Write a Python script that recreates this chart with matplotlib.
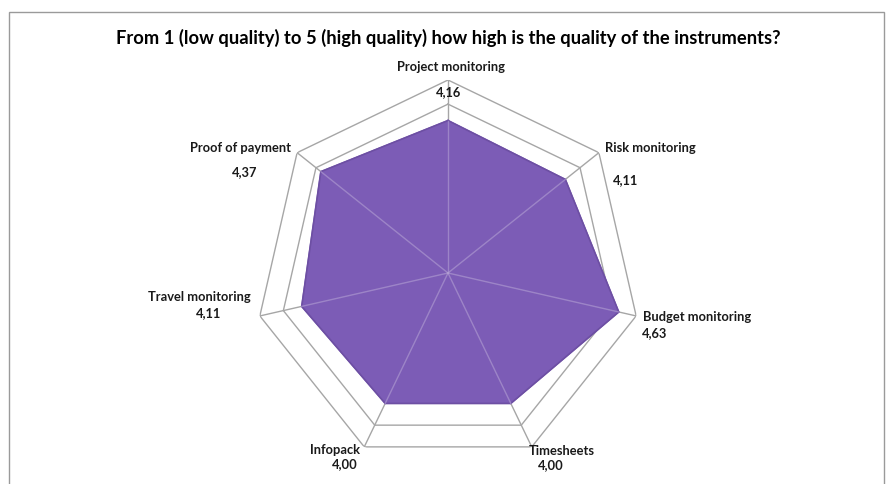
import numpy as np
import matplotlib
matplotlib.use("Agg")
import matplotlib.pyplot as plt
from matplotlib.patches import Rectangle

# data
categories = ["Project monitoring", "Risk monitoring", "Budget monitoring", "Timesheets",
              "Infopack", "Travel monitoring", "Proof of payment"]
scores = [4.16, 4.11, 4.63, 4.00, 4.00, 4.11, 4.37]
value_labels = ["4,16", "4,11", "4,63", "4,00", "4,00", "4,11", "4,37"]
rings = [4.5, 5.0]
title = "From 1 (low quality) to 5 (high quality) how high is the quality of the instruments?"

plt.rcParams['font.family'] = ['Lato', 'DejaVu Sans']

W, H = 886, 484
fig = plt.figure(figsize=(W / 100, H / 100), dpi=100)

# chart border (Excel style)
fig.patches.append(Rectangle((9 / W, -0.05), 875 / W, 1.05 - 12 / H, transform=fig.transFigure,
                             fill=False, edgecolor="#9a9a9a", lw=1))

ax = fig.add_axes([255 / W, 18 / H, 386 / W, 386 / H], projection="polar")
ax.set_theta_zero_location("N")
ax.set_theta_direction(-1)
ax.set_ylim(1, 5)
ax.grid(False)
ax.set_xticks([])
ax.set_yticks([])
ax.spines["polar"].set_visible(False)
ax.patch.set_alpha(0)

n = len(categories)
theta = np.arange(n) * 2 * np.pi / n
closed = np.append(theta, theta[0])

for r in rings:
    ax.plot(closed, [r] * (n + 1), color="#a6a6a6", lw=1, zorder=1)
for t in theta:
    ax.plot([t, t], [1, 5], color="#a6a6a6", lw=1, zorder=1)

vals = np.append(scores, scores[0])
ax.fill(closed, vals, color="#7c5cb6", zorder=2)
ax.plot(closed, vals, color="#6d4fa3", lw=1.2, zorder=3)
for t, s in zip(theta, scores):
    ax.plot([t, t], [1, s], color="#b3a0d3", lw=1, alpha=0.6, zorder=4)

# label placement relative to the outer vertex (pixels)
name_off = [(3, 13, "center"), (51, 5, "center"), (7, -1, "left"), (30, -4, "center"),
            (-29, -3, "center"), (-60, 19, "center"), (-57, 5, "center")]
val_off = [(1, -12, "center"), (27, -27, "center"), (6, -17, "left"), (19, -18, "center"),
           (-19, -17, "center"), (-51, 3, "center"), (-52, -19, "center")]

for i in range(n):
    dx, dy, ha = name_off[i]
    ax.annotate(categories[i], xy=(theta[i], 5), xytext=(dx, dy), textcoords="offset pixels",
                ha=ha, va="center", fontsize=9.3, fontweight="bold", color="#1a1a1a",
                annotation_clip=False, zorder=5)
    dx, dy, ha = val_off[i]
    ax.annotate(value_labels[i], xy=(theta[i], 5), xytext=(dx, dy), textcoords="offset pixels",
                ha=ha, va="center", fontsize=9.3, fontweight="bold", color="#1a1a1a",
                annotation_clip=False, zorder=5)

fig.text(448 / W, 1 - 38 / H, title, ha="center", va="center", fontsize=13.2,
         fontweight="bold", color="#000000")

fig.savefig("out.png", dpi=100)
